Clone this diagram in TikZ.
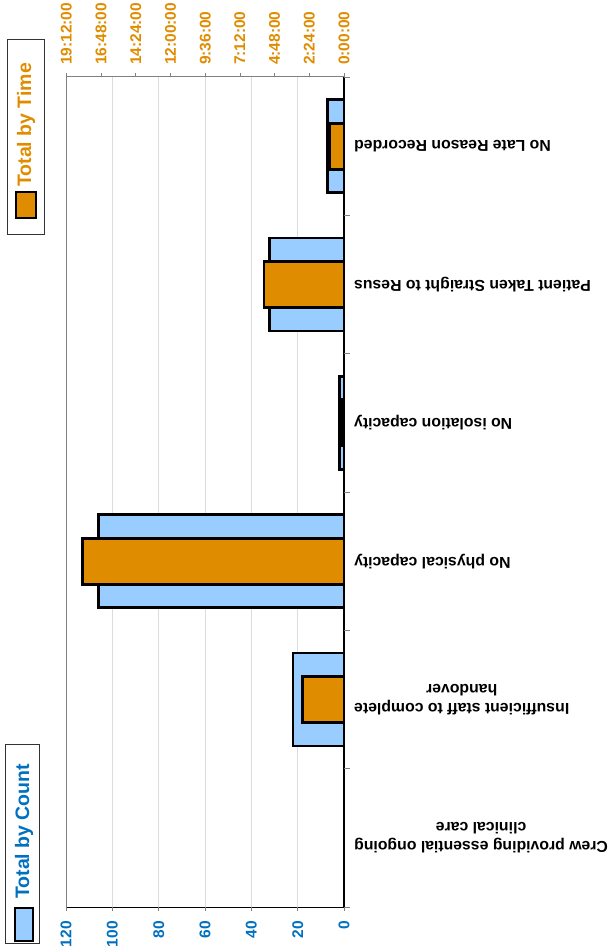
\documentclass[tikz,border=0pt]{standalone}
\usepackage{fontspec}
\setmainfont{Liberation Sans}
\definecolor{countblue}{HTML}{0070C0}
\definecolor{barblue}{HTML}{99CCFF}
\definecolor{timeorange}{HTML}{E08C00}
\definecolor{gridgray}{HTML}{DCDCDC}
\definecolor{axisgray}{HTML}{808080}
\tikzset{
  countbar/.style={draw=black, line width=2.8pt, fill=barblue},
  timebar/.style={draw=black, line width=2.8pt, fill=timeorange},
  catlabel/.style={rotate=180, anchor=east, align=center, inner sep=0pt,
    font=\fontsize{15.8}{18.5}\selectfont\bfseries},
  cntlabel/.style={rotate=90, anchor=east, inner sep=0pt, text=countblue,
    font=\fontsize{15.5}{16}\selectfont\bfseries},
  timelabel/.style={rotate=90, anchor=west, inner sep=0pt, text=timeorange,
    font=\fontsize{15.5}{16}\selectfont\bfseries},
  legtext/.style={rotate=90, anchor=west, inner sep=0pt,
    font=\fontsize{19.5}{20}\selectfont\bfseries},
}
\begin{document}
\begin{tikzpicture}[x=1pt, y=-1pt]
  \useasboundingbox (0,0) rectangle (608,952);

  % Grid
  \foreach \v in {20,40,...,100}
    \draw[gridgray, line width=0.8pt] ({344-2.3167*\v},77) -- ({344-2.3167*\v},907);

  % Bars
  \foreach \k/\cnt/\hrs in {1/7/0.97, 2/32/5.53, 3/2/0.2, 4/106/18.07, 5/22/2.88}
  {
    \pgfmathsetmacro\yc{77+138.33*(\k-0.5)}
    \draw[countbar] ({344-2.3167*\cnt},{\yc-46.5}) rectangle (344,{\yc+46.5});
    \draw[timebar] ({344-14.458*\hrs},{\yc-23}) rectangle (344,{\yc+23});
  }

  % Axes
  \draw[axisgray, line width=1pt] (66,907) -- (66,77) -- (344,77);
  \draw[black, line width=1pt] (66,907) -- (348,907);
  \draw[black, line width=1.2pt] (344,77) -- (344,907);
  \foreach \k in {0,...,6}
    \draw[axisgray, line width=0.8pt] (344,{77+138.33*\k}) -- (350,{77+138.33*\k});

  % Count axis (bottom)
  \foreach \v in {0,20,...,120}
  {
    \draw[axisgray, line width=0.8pt] ({344-2.3167*\v},907) -- ({344-2.3167*\v},911);
    \node[cntlabel] (C\v) at ({344-2.3167*\v},921) {\v};
  }

  % Time axis (top)
  \foreach \i/\lab in {0/0:00:00, 1/2:24:00, 2/4:48:00, 3/7:12:00, 4/9:36:00,
                       5/12:00:00, 6/14:24:00, 7/16:48:00, 8/19:12:00}
  {
    \draw[axisgray, line width=0.8pt] ({344-34.7*\i},73) -- ({344-34.7*\i},77);
    \node[timelabel] (T\i) at ({344-34.7*\i},65) {\lab};
  }

  % Category labels
  \foreach \k/\name in {1/No Late Reason Recorded, 2/Patient Taken Straight to Resus,
                        3/No isolation capacity, 4/No physical capacity,
                        5/{Insufficient staff to complete\\handover},
                        6/{Crew providing essential ongoing\\clinical care}}
    \node[catlabel] (cat\k) at (354,{77+138.33*(\k-0.5)}) {\name};

  % Legends
  \draw[black!80, line width=1pt] (7,40) rectangle (44,234);
  \draw[timebar, line width=2.2pt] (16,192) rectangle (36,218);
  \node[legtext, text=timeorange] (legtime) at (26,187) {Total by Time};

  \draw[black!80, line width=1pt] (5,744) rectangle (39,943);
  \draw[countbar, line width=2.2pt] (15,908) rectangle (33,941);
  \node[legtext, text=countblue] (legcount) at (24,899) {Total by Count};
\end{tikzpicture}
\end{document}
